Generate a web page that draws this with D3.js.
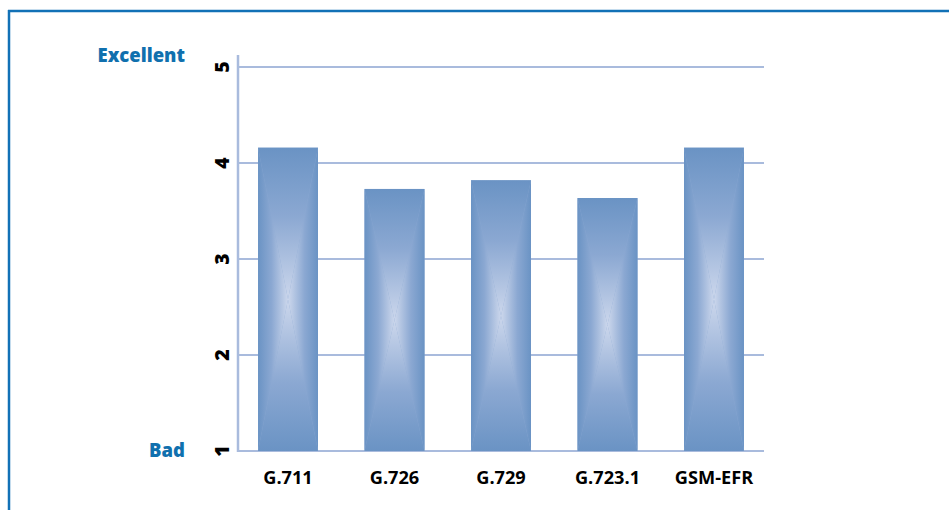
<!DOCTYPE html>
<html><head><meta charset="utf-8">
<script src="https://cdn.jsdelivr.net/npm/d3@7"></script>
<style>
html,body{margin:0;padding:0;background:#fff;}
svg{display:block;}
</style></head>
<body>
<script>
const categories = ["G.711", "G.726", "G.729", "G.723.1", "GSM-EFR"];
const mosValues = [4.16, 3.73, 3.82, 3.635, 4.16];
const yTicks = [1, 2, 3, 4, 5];
const scaleLabels = [{text: "Excellent", v: 5}, {text: "Bad", v: 1}];

const W = 949, H = 510;
const svg = d3.select("body").append("svg").attr("width", W).attr("height", H);

// frame
svg.append("line").attr("x1", 8).attr("x2", W).attr("y1", 11).attr("y2", 11)
  .attr("stroke", "#1271b6").attr("stroke-width", 2.5);
svg.append("line").attr("x1", 9).attr("x2", 9).attr("y1", 10).attr("y2", H)
  .attr("stroke", "#1271b6").attr("stroke-width", 2.5);

const y = d3.scaleLinear().domain([1, 5]).range([451, 67]);
const x = d3.scaleBand().domain(categories).range([211.5, 790.5]).padding(0.437);

const axisX0 = 238, gridX1 = 764;

// gridlines
svg.append("g").selectAll("line").data(yTicks).join("line")
  .attr("x1", axisX0).attr("x2", gridX1)
  .attr("y1", d => y(d)).attr("y2", d => y(d))
  .attr("stroke", "#a9bbdd").attr("stroke-width", 2);

// defs gradients
const defs = svg.append("defs");
const stops = [[0, "#6a93c4"], [0.45, "#8ba8d2"], [1, "#ccd7ec"]];
function grad(id, x1, y1, x2, y2) {
  const g = defs.append("linearGradient").attr("id", id)
    .attr("x1", x1).attr("y1", y1).attr("x2", x2).attr("y2", y2);
  stops.forEach(s => g.append("stop").attr("offset", s[0]).attr("stop-color", s[1]));
}
grad("gTop", 0, 0, 0, 1);
grad("gBot", 0, 1, 0, 0);
grad("gLeft", 0, 0, 1, 0);
grad("gRight", 1, 0, 0, 0);

const bars = svg.append("g").selectAll("g").data(categories.map((c, i) => ({c, v: mosValues[i]}))).join("g");
bars.each(function(d) {
  const g = d3.select(this);
  const x0 = x(d.c), x1 = x0 + x.bandwidth();
  const y0 = y(d.v), y1 = y(1);
  const cx = (x0 + x1) / 2, cy = (y0 + y1) / 2;
  g.append("rect").attr("x", x0).attr("y", y0).attr("width", x1 - x0).attr("height", y1 - y0).attr("fill", "#8ba8d2");
  const tri = (pts, f) => g.append("polygon").attr("points", pts.map(p => p.join(",")).join(" ")).attr("fill", f);
  tri([[x0, y0], [x1, y0], [cx, cy]], "url(#gTop)");
  tri([[x0, y1], [x1, y1], [cx, cy]], "url(#gBot)");
  tri([[x0, y0], [x0, y1], [cx, cy]], "url(#gLeft)");
  tri([[x1, y0], [x1, y1], [cx, cy]], "url(#gRight)");
});

// y axis line
svg.append("line").attr("x1", axisX0).attr("x2", axisX0).attr("y1", 55).attr("y2", 452)
  .attr("stroke", "#a9bbdd").attr("stroke-width", 2.5);

// y tick labels rotated
svg.append("g").selectAll("text").data(yTicks).join("text")
  .attr("transform", d => `translate(229,${y(d)}) rotate(-90)`)
  .attr("text-anchor", "middle")
  .attr("font-family", "'Open Sans', sans-serif").attr("font-weight", 800)
  .attr("font-size", 19.5).attr("fill", "#000")
  .text(d => d);

// x labels
svg.append("g").selectAll("text").data(categories).join("text")
  .attr("x", d => x(d) + x.bandwidth() / 2).attr("y", 484)
  .attr("text-anchor", "middle")
  .attr("font-family", "'Open Sans', sans-serif").attr("font-weight", 700)
  .attr("font-size", 18.2).attr("fill", "#000")
  .text(d => d);

// scale labels
svg.append("g").selectAll("text").data(scaleLabels).join("text")
  .attr("x", 185).attr("y", d => d.v === 5 ? 62 : 457)
  .attr("text-anchor", "end")
  .attr("font-family", "'Open Sans', sans-serif").attr("font-weight", 800)
  .attr("font-size", 18.5).attr("fill", "#1070ae")
  .text(d => d.text);
</script>
</body></html>
